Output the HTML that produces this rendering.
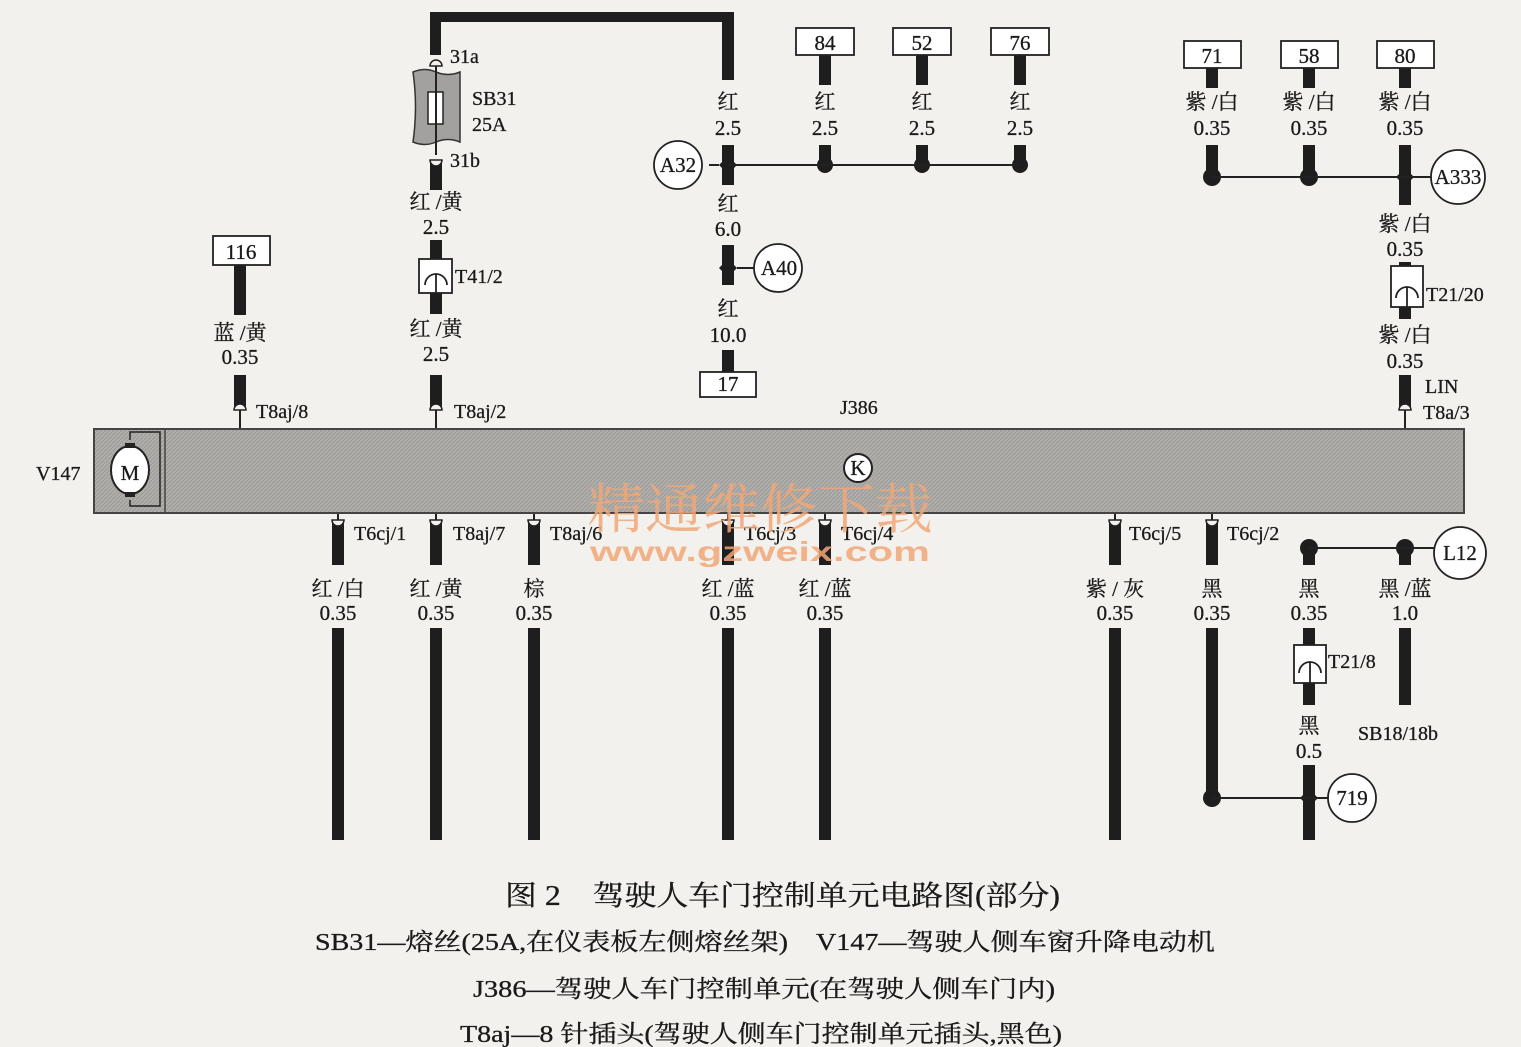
<!DOCTYPE html>
<html><head><meta charset="utf-8"><style>
html,body{margin:0;padding:0;background:#f3f1ed;}
svg{display:block}
text{font-family:"Liberation Serif","Noto Serif CJK SC",serif;fill:#1a1a1a;stroke:#1a1a1a;stroke-width:0.3px;}
.l{font-size:21px;text-anchor:middle}
.p{font-size:20px}
.c{font-size:24px}
</style></head><body>
<svg width="1521" height="1047" viewBox="0 0 1521 1047" xmlns="http://www.w3.org/2000/svg">
<defs>
<pattern id="h" width="4" height="4" patternUnits="userSpaceOnUse"><rect width="4" height="4" fill="#b0aeab"/><path d="M0 4L4 0" stroke="#9c9a97" stroke-width="1"/></pattern>
</defs>
<g fill="#1e1e1e" stroke="none">
<path d="M430 12H734V80H722V22H441V55H430Z"/>
<rect x="430" y="160" width="12" height="30"/>
<rect x="430" y="240" width="12" height="20"/>
<rect x="430" y="292" width="12" height="22"/>
<rect x="430" y="375" width="12" height="35"/>
<rect x="234" y="265" width="12" height="50"/>
<rect x="234" y="375" width="12" height="35"/>
<rect x="722" y="145" width="12" height="40"/>
<rect x="722" y="245" width="12" height="40"/>
<rect x="722" y="350" width="12" height="22"/>
<rect x="819" y="55" width="12" height="30"/><rect x="819" y="145" width="12" height="22"/>
<rect x="916" y="55" width="12" height="30"/><rect x="916" y="145" width="12" height="22"/>
<rect x="1014" y="55" width="12" height="30"/><rect x="1014" y="145" width="12" height="22"/>
<circle cx="825" cy="165" r="8"/><circle cx="922" cy="165" r="8"/><circle cx="1020" cy="165" r="8"/>
<path d="M728 156L737 165L728 174L719 165Z"/>
<path d="M728 259L737 268L728 277L719 268Z"/>
<rect x="1206" y="68" width="12" height="20"/><rect x="1206" y="145" width="12" height="33"/>
<rect x="1303" y="68" width="12" height="20"/><rect x="1303" y="145" width="12" height="33"/>
<rect x="1399" y="68" width="12" height="20"/><rect x="1399" y="145" width="12" height="60"/>
<circle cx="1212" cy="177" r="9"/><circle cx="1309" cy="177" r="9"/>
<path d="M1405 168L1414 177L1405 186L1396 177Z"/>
<rect x="1399" y="262" width="12" height="4"/>
<rect x="1399" y="307" width="12" height="12"/>
<rect x="1399" y="375" width="12" height="35"/>
<rect x="332" y="520" width="12" height="45"/><rect x="332" y="628" width="12" height="212"/>
<rect x="430" y="520" width="12" height="45"/><rect x="430" y="628" width="12" height="212"/>
<rect x="528" y="520" width="12" height="45"/><rect x="528" y="628" width="12" height="212"/>
<rect x="722" y="520" width="12" height="45"/><rect x="722" y="628" width="12" height="212"/>
<rect x="819" y="520" width="12" height="45"/><rect x="819" y="628" width="12" height="212"/>
<rect x="1109" y="520" width="12" height="45"/><rect x="1109" y="628" width="12" height="212"/>
<rect x="1206" y="520" width="12" height="45"/><rect x="1206" y="628" width="12" height="170"/>
<circle cx="1212" cy="798" r="9"/>
<rect x="1303" y="548" width="12" height="17"/><rect x="1303" y="628" width="12" height="18"/>
<rect x="1303" y="683" width="12" height="22"/><rect x="1303" y="765" width="12" height="75"/>
<path d="M1309 789L1318 798L1309 807L1300 798Z"/>
<circle cx="1309" cy="548" r="9"/>
<rect x="1399" y="548" width="12" height="17"/><rect x="1399" y="628" width="12" height="77"/>
<circle cx="1405" cy="548" r="9"/>
</g>
<g stroke="#222" stroke-width="2" fill="none">
<path d="M728 165H1020"/>
<path d="M1212 177H1432"/>
<path d="M1212 798H1329"/>
<path d="M1309 548H1435"/>
<path d="M436 60V155"/>
<path d="M240 410V428M436 410V428M1405 410V428"/>
<path d="M338 513V528M436 513V528M534 513V528M728 513V528M825 513V528M1115 513V528M1212 513V528"/>
<path d="M709 165H719M737 268H754"/>
</g>
<g fill="#f3f1ed" stroke="#222" stroke-width="1.5">
<path d="M430 66a6 6 0 0 1 12 0Z"/>
<path d="M430 160a6 6 0 0 1 12 0Z" transform="rotate(180 436 160)"/>
<path d="M234 410a6 6 0 0 1 12 0Z"/><path d="M430 410a6 6 0 0 1 12 0Z"/><path d="M1399 410a6 6 0 0 1 12 0Z"/>
<path d="M332 520a6 6 0 0 0 12 0Z"/><path d="M430 520a6 6 0 0 0 12 0Z"/><path d="M528 520a6 6 0 0 0 12 0Z"/>
<path d="M722 520a6 6 0 0 0 12 0Z"/><path d="M819 520a6 6 0 0 0 12 0Z"/><path d="M1109 520a6 6 0 0 0 12 0Z"/><path d="M1206 520a6 6 0 0 0 12 0Z"/>
</g>
<path d="M413 72Q425 67 436 72Q448 77 460 72V142Q448 137 436 142Q425 147 413 142Q418 107 413 72Z" fill="#a3a19f" stroke="#333" stroke-width="1.5"/>
<rect x="428" y="92" width="15" height="32" fill="#fff" stroke="#222" stroke-width="1.5"/>
<path d="M436 70V145" stroke="#222" stroke-width="2"/>
<g fill="#fff" stroke="#222" stroke-width="1.8">
<rect x="419" y="259" width="33" height="34"/>
<rect x="1391" y="266" width="32" height="41"/>
<rect x="1294" y="645" width="32" height="38"/>
</g>
<g fill="none" stroke="#222" stroke-width="1.8">
<path d="M425 285a11 11 0 0 1 22 0M436 274V293"/>
<path d="M1396 298a11 11 0 0 1 22 0M1407 287V307"/>
<path d="M1299 673a11 11 0 0 1 22 0M1310 662V683"/>
</g>
<g fill="#fff" stroke="#222" stroke-width="1.8">
<rect x="213" y="236" width="57" height="29"/>
<rect x="700" y="372" width="56" height="25"/>
<rect x="796" y="28" width="58" height="27"/>
<rect x="893" y="28" width="58" height="27"/>
<rect x="991" y="28" width="58" height="27"/>
<rect x="1184" y="41" width="57" height="27"/>
<rect x="1281" y="41" width="57" height="27"/>
<rect x="1377" y="41" width="57" height="27"/>
</g>
<g>
<text x="241" y="259" class="l">116</text><text x="728" y="391" class="l">17</text>
<text x="825" y="50" class="l">84</text><text x="922" y="50" class="l">52</text><text x="1020" y="50" class="l">76</text>
<text x="1212" y="63" class="l">71</text><text x="1309" y="63" class="l">58</text><text x="1405" y="63" class="l">80</text>
</g>
<g fill="#fff" stroke="#222" stroke-width="1.8">
<circle cx="678" cy="165" r="24"/><circle cx="778" cy="268" r="24"/>
<circle cx="1458" cy="177" r="27"/><circle cx="1460" cy="553" r="26"/><circle cx="1352" cy="798" r="24"/>
</g>
<text x="678" y="172" class="l">A32</text><text x="779" y="275" class="l">A40</text>
<text x="1458" y="184" class="l">A333</text><text x="1460" y="560" class="l">L12</text><text x="1352" y="805" class="l">719</text>
<rect x="94" y="429" width="1370" height="84" fill="url(#h)" stroke="#444" stroke-width="2"/>
<path d="M165 429V513" stroke="#444" stroke-width="1.5"/>
<path d="M130 440V432H160V506H130V500" fill="none" stroke="#222" stroke-width="1.5"/>
<ellipse cx="130" cy="470" rx="19" ry="24" fill="#fff" stroke="#222" stroke-width="2"/>
<rect x="125" y="443" width="10" height="5" fill="#222"/><rect x="125" y="492" width="10" height="5" fill="#222"/>
<text x="130" y="480" class="l" font-size="22">M</text>
<circle cx="858" cy="468" r="14" fill="#fff" stroke="#222" stroke-width="2"/>
<text x="858" y="475" class="l" font-size="18">K</text>
<g class="p">
<text x="450" y="63">31a</text><text x="450" y="167">31b</text>
<text x="472" y="105">SB31</text><text x="472" y="131">25A</text>
<text x="455" y="283">T41/2</text>
<text x="256" y="418">T8aj/8</text><text x="454" y="418">T8aj/2</text>
<text x="1425" y="393">LIN</text><text x="1423" y="419">T8a/3</text>
<text x="1426" y="301">T21/20</text><text x="1328" y="668">T21/8</text>
<text x="840" y="414">J386</text><text x="36" y="480">V147</text>
<text x="354" y="540">T6cj/1</text><text x="453" y="540">T8aj/7</text><text x="550" y="540">T8aj/6</text>
<text x="744" y="540">T6cj/3</text><text x="841" y="540">T6cj/4</text>
<text x="1129" y="540">T6cj/5</text><text x="1227" y="540">T6cj/2</text>
<text x="1358" y="740">SB18/18b</text>
</g>
<g>
<text x="436" y="209" class="l">红 /黄</text><text x="436" y="234" class="l">2.5</text>
<text x="436" y="336" class="l">红 /黄</text><text x="436" y="361" class="l">2.5</text>
<text x="240" y="340" class="l">蓝 /黄</text><text x="240" y="364" class="l">0.35</text>
<text x="728" y="109" class="l">红</text><text x="728" y="135" class="l">2.5</text>
<text x="825" y="109" class="l">红</text><text x="825" y="135" class="l">2.5</text>
<text x="922" y="109" class="l">红</text><text x="922" y="135" class="l">2.5</text>
<text x="1020" y="109" class="l">红</text><text x="1020" y="135" class="l">2.5</text>
<text x="728" y="211" class="l">红</text><text x="728" y="236" class="l">6.0</text>
<text x="728" y="316" class="l">红</text><text x="728" y="342" class="l">10.0</text>
<text x="1212" y="109" class="l">紫 /白</text><text x="1212" y="135" class="l">0.35</text>
<text x="1309" y="109" class="l">紫 /白</text><text x="1309" y="135" class="l">0.35</text>
<text x="1405" y="109" class="l">紫 /白</text><text x="1405" y="135" class="l">0.35</text>
<text x="1405" y="231" class="l">紫 /白</text><text x="1405" y="256" class="l">0.35</text>
<text x="1405" y="342" class="l">紫 /白</text><text x="1405" y="368" class="l">0.35</text>
<text x="338" y="596" class="l">红 /白</text><text x="338" y="620" class="l">0.35</text>
<text x="436" y="596" class="l">红 /黄</text><text x="436" y="620" class="l">0.35</text>
<text x="534" y="596" class="l">棕</text><text x="534" y="620" class="l">0.35</text>
<text x="728" y="596" class="l">红 /蓝</text><text x="728" y="620" class="l">0.35</text>
<text x="825" y="596" class="l">红 /蓝</text><text x="825" y="620" class="l">0.35</text>
<text x="1115" y="596" class="l">紫 / 灰</text><text x="1115" y="620" class="l">0.35</text>
<text x="1212" y="596" class="l">黑</text><text x="1212" y="620" class="l">0.35</text>
<text x="1309" y="596" class="l">黑</text><text x="1309" y="620" class="l">0.35</text>
<text x="1405" y="596" class="l">黑 /蓝</text><text x="1405" y="620" class="l">1.0</text>
<text x="1309" y="733" class="l">黑</text><text x="1309" y="758" class="l">0.5</text>
</g>
<text x="760" y="528" text-anchor="middle" font-size="54" textLength="345" lengthAdjust="spacingAndGlyphs" style="fill:#f2a878;stroke:none;opacity:.85">精通维修下载</text>
<text x="760" y="561" text-anchor="middle" font-size="28" font-weight="bold" textLength="340" lengthAdjust="spacingAndGlyphs" style="fill:#f2a878;stroke:none;opacity:.85;font-family:'Liberation Sans',sans-serif">www.gzweix.com</text>
<text x="505" y="905" font-size="28" textLength="555" lengthAdjust="spacingAndGlyphs">图 2　驾驶人车门控制单元电路图(部分)</text>
<text x="315" y="950" class="c" textLength="900" lengthAdjust="spacingAndGlyphs">SB31—熔丝(25A,在仪表板左侧熔丝架)　V147—驾驶人侧车窗升降电动机</text>
<text x="473" y="997" class="c" textLength="582" lengthAdjust="spacingAndGlyphs">J386—驾驶人车门控制单元(在驾驶人侧车门内)</text>
<text x="460" y="1042" class="c" textLength="602" lengthAdjust="spacingAndGlyphs">T8aj—8 针插头(驾驶人侧车门控制单元插头,黑色)</text>
</svg>
</body></html>
